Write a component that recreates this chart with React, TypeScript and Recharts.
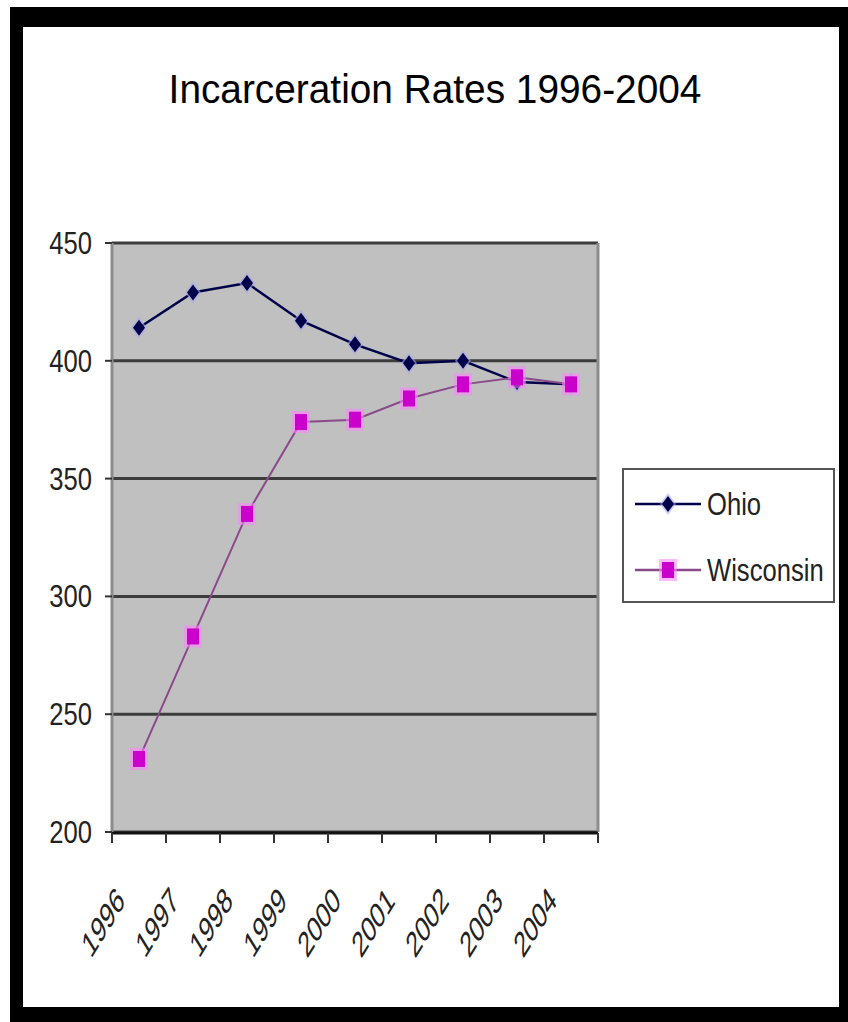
import React from "react";
import { LineChart, Line, XAxis, YAxis, CartesianGrid, Legend, ReferenceLine } from "recharts";

const years = ["1996", "1997", "1998", "1999", "2000", "2001", "2002", "2003", "2004"];
const ohio = [414, 429, 433, 417, 407, 399, 400, 391, 390];
const wisconsin = [231, 283, 335, 374, 375, 384, 390, 393, 390];
const yTicks = [200, 250, 300, 350, 400, 450];

// category boundaries for the Excel-style tick marks between years
const edgeTicks = Array.from({ length: years.length + 1 }, (_, i) => i);

// pos = middle of each year's slot on the boundary axis
const data = years.map((year, i) => ({ year, pos: i + 0.5, ohio: ohio[i], wisconsin: wisconsin[i] }));

const FONT = "'Liberation Sans', Arial, sans-serif";

const OhioDot = (props: any) => {
  const { cx, cy } = props;
  if (cx == null || cy == null) return <g />;
  return (
    <g>
      <polygon
        points={`${cx},${cy - 11} ${cx + 8},${cy} ${cx},${cy + 11} ${cx - 8},${cy}`}
        fill="#a8a8e8"
        opacity={0.6}
      />
      <polygon
        points={`${cx},${cy - 8} ${cx + 6},${cy} ${cx},${cy + 8} ${cx - 6},${cy}`}
        fill="#00004a"
      />
    </g>
  );
};

const WisconsinDot = (props: any) => {
  const { cx, cy } = props;
  if (cx == null || cy == null) return <g />;
  return (
    <g>
      <rect x={cx - 9} y={cy - 11} width={18} height={22} fill="#ff80ff" opacity={0.55} />
      <rect x={cx - 6} y={cy - 8} width={12} height={16} fill="#cc00cc" />
    </g>
  );
};

const YTick = (props: any) => {
  const { x, y, payload } = props;
  return (
    <text
      transform={`translate(${x},${y}) scale(0.8,1)`}
      textAnchor="end"
      dominantBaseline="central"
      fontSize={32}
      fontFamily={FONT}
      fill="#222"
    >
      {payload.value}
    </text>
  );
};

const XTick = (props: any) => {
  const { x, y, payload } = props;
  return (
    <text
      transform={`translate(${x - 36},${y + 90}) scale(0.62,1) rotate(-45)`}
      textAnchor="middle"
      dominantBaseline="central"
      fontSize={36}
      fontFamily={FONT}
      fill="#222"
    >
      {payload.value}
    </text>
  );
};

// tick marks only, no label text on the boundary axis
const NoLabel = () => <g />;

const legendItems = [
  { name: "Ohio", line: "#00004a", Dot: OhioDot, top: 34 },
  { name: "Wisconsin", line: "#8a4a8a", Dot: WisconsinDot, top: 100 },
];

const LegendBox = () => (
  <div
    style={{
      position: "relative",
      width: 213,
      height: 135,
      boxSizing: "border-box",
      border: "2px solid #555",
      background: "#fff",
    }}
  >
    {legendItems.map(({ name, line, Dot, top }) => (
      <div key={name} style={{ position: "absolute", left: 0, top: top - 20, height: 40, width: 209 }}>
        <svg width={72} height={40} style={{ position: "absolute", left: 11, top: 0 }}>
          <line x1={0} y1={20} x2={66} y2={20} stroke={line} strokeWidth={2.5} />
          <Dot cx={33} cy={20} />
        </svg>
        <span
          style={{
            position: "absolute",
            left: 83,
            top: 0,
            lineHeight: "40px",
            fontSize: 32,
            fontFamily: FONT,
            color: "#222",
            transform: "scaleX(0.8)",
            transformOrigin: "left center",
            whiteSpace: "nowrap",
          }}
        >
          {name}
        </span>
      </div>
    ))}
  </div>
);

export default function App() {
  return (
    <div style={{ position: "absolute", left: 0, top: 0, width: 848, height: 1022, background: "#fff" }}>
      <div
        style={{
          position: "absolute",
          left: 10,
          top: 7,
          width: 838,
          height: 1015,
          boxSizing: "border-box",
          borderStyle: "solid",
          borderColor: "#000",
          borderWidth: "20px 9px 15px 13px",
        }}
      />
      <div
        style={{
          position: "absolute",
          left: 0,
          top: 66,
          width: 870,
          textAlign: "center",
          fontSize: 40,
          lineHeight: "46px",
          fontFamily: FONT,
          color: "#000",
          transform: "scaleX(0.97)",
        }}
      >
        Incarceration Rates 1996-2004
      </div>
      <div style={{ position: "absolute", left: 0, top: 0 }}>
        <LineChart
          width={848}
          height={1022}
          data={data}
          margin={{ top: 243, right: 250, bottom: 188, left: 12 }}
        >
          <CartesianGrid
            horizontal={true}
            vertical={false}
            fill="#c0c0c0"
            stroke="#3c3c3c"
            strokeWidth={3}
          />
          <XAxis
            dataKey="year"
            scale="band"
            interval={0}
            height={1}
            axisLine={false}
            tickLine={false}
            tickSize={0}
            tickMargin={0}
            tick={<XTick />}
          />
          <XAxis
            xAxisId="edges"
            dataKey="pos"
            type="number"
            domain={[0, years.length]}
            ticks={edgeTicks}
            interval={0}
            allowDataOverflow
            height={1}
            tick={<NoLabel />}
            tickSize={10}
            tickLine={{ stroke: "#333", strokeWidth: 2 }}
            axisLine={{ stroke: "#111", strokeWidth: 3 }}
          />
          <YAxis
            width={100}
            domain={[200, 450]}
            ticks={yTicks}
            allowDataOverflow
            tickSize={7}
            tickMargin={13}
            tickLine={{ stroke: "#333", strokeWidth: 2 }}
            axisLine={{ stroke: "#8c8c8c", strokeWidth: 3 }}
            tick={<YTick />}
          />
          <ReferenceLine xAxisId="edges" x={years.length} stroke="#8c8c8c" strokeWidth={3} />
          <Legend
            layout="vertical"
            align="center"
            verticalAlign="middle"
            content={<LegendBox />}
            wrapperStyle={{ position: "absolute", left: 622, top: 468, width: 213, height: 135 }}
          />
          <Line
            type="linear"
            dataKey="ohio"
            name="Ohio"
            stroke="#00004a"
            strokeWidth={2.5}
            dot={<OhioDot />}
            activeDot={false}
            isAnimationActive={false}
          />
          <Line
            type="linear"
            dataKey="wisconsin"
            name="Wisconsin"
            stroke="#8a4a8a"
            strokeWidth={2}
            dot={<WisconsinDot />}
            activeDot={false}
            isAnimationActive={false}
          />
        </LineChart>
      </div>
    </div>
  );
}
